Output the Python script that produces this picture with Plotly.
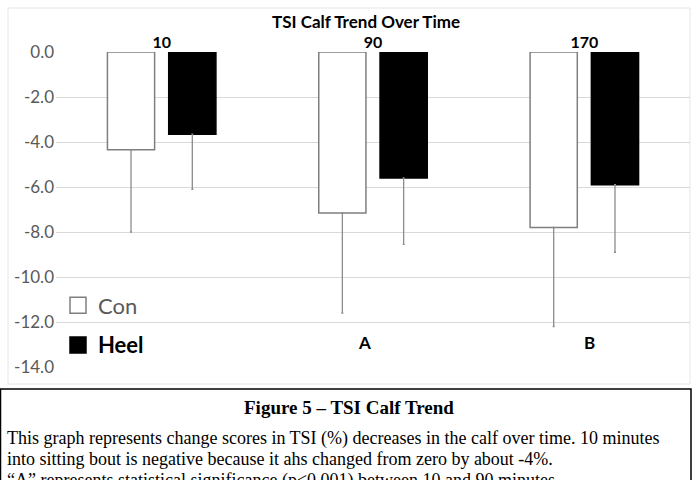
import plotly.graph_objects as go

# ---- data ----
times = ["10", "90", "170"]
con_values = [-4.35, -7.15, -7.8]
con_err_minus = [3.65, 4.45, 4.4]
heel_values = [-3.65, -5.6, -5.9]
heel_err_minus = [2.45, 2.95, 3.0]
y_ticks = [0, -2, -4, -6, -8, -10, -12, -14]
y_tick_labels = [f"{v:.1f}" if v == 0 else f"-{abs(v):.1f}" for v in y_ticks]
sig_labels = [("90", "A", -8.5), ("170", "B", 5.5)]

W, H = 698, 480
L, R, T, B = 56, 8, 52, 113
PW, PH = W - L - R, H - T - B


def px(x):
    return (x - L) / PW


def py(y):
    return (H - B - y) / PH


fig = go.Figure()
fig.add_trace(go.Bar(
    x=times, y=con_values, name="Con", showlegend=False,
    marker=dict(color="white", line=dict(color="#7f7f7f", width=1.5)),
    error_y=dict(type="data", symmetric=False, array=[0] * 3, arrayminus=con_err_minus,
                 color="#8c8c8c", thickness=1.3, width=1),
))
fig.add_trace(go.Bar(
    x=times, y=heel_values, name="Heel", showlegend=False,
    marker=dict(color="black", line=dict(color="black", width=1.5)),
    error_y=dict(type="data", symmetric=False, array=[0] * 3, arrayminus=heel_err_minus,
                 color="#8c8c8c", thickness=1.3, width=1),
))
# legend entries (on hidden axes so they do not affect the category axis)
fig.add_trace(go.Scatter(
    x=[None], y=[None], mode="markers", name="Con", legendgroup="c",
    xaxis="x2", yaxis="y2",
    marker=dict(symbol="square", size=16, color="white", line=dict(color="#7f7f7f", width=1.5)),
))
fig.add_trace(go.Scatter(
    x=[None], y=[None], mode="markers", name="<b><span style='color:black'>Heel</span></b>",
    legendgroup="h", xaxis="x2", yaxis="y2",
    marker=dict(symbol="square", size=16, color="black", line=dict(color="black", width=1.5)),
))

annotations = []
for cat, lab, shift in sig_labels:
    annotations.append(dict(x=times.index(cat), y=-12.9, xref="x", yref="y",
                            text=f"<b>{lab}</b>", showarrow=False, xshift=shift,
                            font=dict(family="Lato, sans-serif", size=17, color="black")))

serif = "Liberation Serif, Times New Roman, serif"
annotations.append(dict(x=px(349), y=py(407), xref="paper", yref="paper",
                        text="<b>Figure 5 – TSI Calf Trend</b>", showarrow=False,
                        xanchor="center", yanchor="middle",
                        font=dict(family=serif, size=19, color="black")))
caption_lines = [
    "This graph represents change scores in TSI (%) decreases in the calf over time. 10 minutes",
    "into sitting bout is negative because it ahs changed from zero by about -4%.",
    "“A” represents statistical significance (p&lt;0.001) between 10 and 90 minutes.",
]
for i, line in enumerate(caption_lines):
    annotations.append(dict(x=px(5), y=py(438 + 21 * i), xref="paper", yref="paper",
                            text=line, showarrow=False, xanchor="left", yanchor="middle",
                            font=dict(family=serif, size=18, color="black")))

shapes = [
    dict(type="rect", xref="paper", yref="paper", x0=px(8), x1=px(690), y0=py(8), y1=py(384),
         line=dict(color="#e6e6e6", width=1), fillcolor="rgba(0,0,0,0)", layer="below"),
    dict(type="rect", xref="paper", yref="paper", x0=px(0.5), x1=px(691), y0=py(389), y1=py(500),
         line=dict(color="black", width=1.5), fillcolor="rgba(0,0,0,0)"),
]

fig.update_layout(
    width=W, height=H,
    margin=dict(l=L, r=R, t=T, b=B),
    paper_bgcolor="white", plot_bgcolor="white",
    barmode="group", bargap=0.42, bargroupgap=0.23,
    title=dict(text="<b>TSI Calf Trend Over Time</b>", x=366 / W, xref="container",
               xanchor="center", y=1 - 22 / H, yref="container", yanchor="middle",
               font=dict(family="Lato, sans-serif", size=17, color="black")),
    xaxis=dict(side="top", type="category", categoryorder="array", categoryarray=times,
               range=[-0.5, len(times) - 0.5],
               showgrid=False, showline=False, zeroline=False, ticks="",
               tickfont=dict(family="Lato, sans-serif", size=16, color="black", weight="bold")),
    yaxis=dict(range=[-14, 0], tickvals=y_ticks, ticktext=y_tick_labels,
               showgrid=True, gridcolor="#d9d9d9", gridwidth=1, zeroline=False,
               showline=False, ticks="", ticklabelstandoff=1,
               tickfont=dict(family="Lato, sans-serif", size=17, color="#595959")),
    xaxis2=dict(overlaying="x", visible=False, range=[0, 1]),
    yaxis2=dict(overlaying="y", visible=False, range=[0, 1]),
    legend=dict(x=px(58), xanchor="left", y=py(325.5), yanchor="middle",
                bgcolor="rgba(0,0,0,0)", tracegroupgap=8,
                font=dict(family="Lato, sans-serif", size=22, color="#595959")),
    annotations=annotations,
    shapes=shapes,
)

fig.write_html("out.html")
